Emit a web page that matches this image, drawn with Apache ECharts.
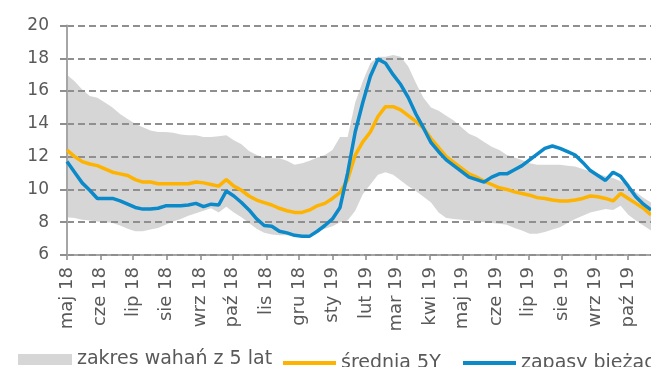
<!DOCTYPE html>
<html>
<head>
<meta charset="utf-8">
<script src="https://cdn.jsdelivr.net/npm/echarts@6/dist/echarts.min.js"></script>
<style>
    html, body { margin: 0; padding: 0; background: #fff; }
    #chart { width: 651px; height: 367px; }
</style>
</head>
<body>
<div id="chart"></div>
<script>
    // tygodniowe odczyty od 1 maja 2018
    var tickLabels = ['maj 18', 'cze 18', 'lip 18', 'sie 18', 'wrz 18', 'paź 18', 'lis 18', 'gru 18', 'sty 19',
        'lut 19', 'mar 19', 'kwi 19', 'maj 19', 'cze 19', 'lip 19', 'sie 19', 'wrz 19', 'paź 19'];

    // zakres wahań z 5 lat - dolna i górna granica
    var bandLow = [8.3, 8.25, 8.15, 8.1, 8.05, 8.0, 7.95, 7.8, 7.6, 7.45, 7.45, 7.55, 7.65, 7.85, 8.05, 8.2, 8.4, 8.55, 8.7, 8.85,
        8.6, 8.95, 8.6, 8.3, 7.95, 7.6, 7.35, 7.25, 7.2, 7.2, 7.2, 7.2, 7.25, 7.4, 7.6, 7.75, 8.0, 8.1, 8.7, 9.7,
        10.3, 10.9, 11.05, 10.9, 10.55, 10.2, 9.9, 9.55, 9.2, 8.6, 8.25, 8.2, 8.15, 8.1, 8.05, 8.0, 7.95, 7.9, 7.85, 7.65,
        7.5, 7.3, 7.3, 7.4, 7.55, 7.7, 7.95, 8.2, 8.4, 8.6, 8.7, 8.8, 8.75, 9.0, 8.45, 8.1, 7.8, 7.5];
    var bandHigh = [17.0, 16.6, 16.1, 15.7, 15.6, 15.3, 15.0, 14.6, 14.3, 14.0, 13.8, 13.6, 13.5, 13.5, 13.45, 13.35, 13.3, 13.3, 13.2, 13.2,
        13.25, 13.3, 13.0, 12.75, 12.35, 12.1, 11.95, 11.9, 11.9, 11.75, 11.5, 11.6, 11.75, 11.95, 12.1, 12.4, 13.2, 13.2, 15.3, 16.6,
        17.7, 18.1, 18.1, 18.2, 18.1, 17.5, 16.5, 15.6, 15.0, 14.8, 14.5, 14.2, 13.8, 13.4, 13.2, 12.9, 12.6, 12.4, 12.1, 11.95,
        11.8, 11.6, 11.5, 11.5, 11.5, 11.5, 11.45, 11.4, 11.25, 11.1, 10.95, 10.8, 10.7, 10.5, 10.25, 9.85, 9.5, 9.2];
    // średnia 5Y
    var avg5y = [12.4, 12.0, 11.7, 11.55, 11.45, 11.25, 11.05, 10.95, 10.85, 10.6, 10.45, 10.45, 10.35, 10.35, 10.35, 10.35, 10.35, 10.45, 10.4, 10.3,
        10.2, 10.6, 10.2, 9.95, 9.6, 9.35, 9.2, 9.05, 8.85, 8.7, 8.6, 8.6, 8.75, 9.0, 9.15, 9.45, 9.8, 10.6, 12.1, 12.9,
        13.5, 14.45, 15.05, 15.05, 14.85, 14.5, 14.15, 13.75, 13.1, 12.55, 12.0, 11.65, 11.3, 10.95, 10.75, 10.5, 10.3, 10.1, 10.0, 9.85,
        9.75, 9.65, 9.5, 9.45, 9.35, 9.3, 9.3, 9.35, 9.45, 9.6, 9.55, 9.45, 9.3, 9.75, 9.45, 9.15, 8.85, 8.45];
    // zapasy bieżące
    var current = [11.7, 11.05, 10.4, 9.95, 9.45, 9.45, 9.45, 9.3, 9.1, 8.9, 8.8, 8.8, 8.85, 9.0, 9.0, 9.0, 9.05, 9.15, 8.95, 9.1,
        9.05, 9.9, 9.6, 9.2, 8.75, 8.2, 7.8, 7.75, 7.45, 7.35, 7.2, 7.15, 7.15, 7.45, 7.8, 8.2, 8.9, 11.0, 13.5, 15.3,
        16.9, 17.95, 17.7, 17.0, 16.4, 15.6, 14.6, 13.75, 12.85, 12.3, 11.8, 11.45, 11.1, 10.75, 10.6, 10.45, 10.75, 10.95, 10.95, 11.2,
        11.45, 11.8, 12.15, 12.5, 12.65, 12.5, 12.3, 12.1, 11.65, 11.15, 10.85, 10.55, 11.05, 10.8, 10.2, 9.55, 9.1, 8.75];

    var weeks = [];
    for (var i = 0; i < current.length; i++) {
        weeks.push(new Date(2018, 4, 1 + i * 7).getTime());
    }
    // początek każdego miesiąca -> podpis
    var tickValues = [];
    var labelByTime = {};
    tickLabels.forEach(function (l, k) {
        var t = new Date(2018, 4 + k, 1).getTime();
        tickValues.push(t);
        labelByTime[t] = l;
    });

    function pairs(arr) {
        return arr.map(function (v, k) { return [weeks[k], v]; });
    }
    var bandData = weeks.map(function (t, k) { return [t, bandLow[k], bandHigh[k]]; });

    // cały obszar wahań rysowany jako jeden wielokąt
    function renderBand(params, api) {
        if (params.dataIndex !== 0) return;
        var top = [], bottom = [];
        for (var k = 0; k < bandData.length; k++) {
            top.push(api.coord([bandData[k][0], bandData[k][2]]));
            bottom.unshift(api.coord([bandData[k][0], bandData[k][1]]));
        }
        return {
            type: 'polygon',
            shape: { points: top.concat(bottom) },
            style: { fill: '#d6d6d6' }
        };
    }

    var textColor = '#595959';
    var font = 'DejaVu Sans, Verdana, sans-serif';
    var legendText = { color: textColor, fontSize: 19, fontFamily: font };

    var chart = echarts.init(document.getElementById('chart'));
    chart.setOption({
        animation: false,
        grid: {
            left: 67,
            right: 0,
            top: 25.5,
            bottom: 112
        },
        legend: [
            {
                left: 18, top: 350, padding: 0,
                itemWidth: 54, itemHeight: 11,
                icon: 'rect',
                textStyle: legendText,
                data: ['zakres wahań z 5 lat']
            },
            {
                left: 283, top: 353.5, padding: 0,
                itemWidth: 53, itemHeight: 4,
                icon: 'rect',
                textStyle: legendText,
                data: ['średnia 5Y']
            },
            {
                left: 463, top: 353.5, padding: 0,
                itemWidth: 53, itemHeight: 4,
                icon: 'rect',
                textStyle: legendText,
                data: ['zapasy bieżące']
            }
        ],
        xAxis: {
            type: 'value',
            min: weeks[0],
            max: weeks[weeks.length - 1],
            axisLine: { lineStyle: { color: '#a6a6a6', width: 2 } },
            axisTick: { show: true, length: 5, customValues: tickValues, lineStyle: { color: '#a6a6a6', width: 2 } },
            axisLabel: {
                customValues: tickValues,
                rotate: 90,
                margin: 12,
                color: textColor,
                fontSize: 18,
                fontFamily: font,
                formatter: function (v) {
                    return labelByTime[v] || '';
                }
            },
            splitLine: { show: false }
        },
        yAxis: {
            type: 'value',
            min: 6,
            max: 20,
            interval: 2,
            z: 1.5,
            axisLine: { show: true, lineStyle: { color: '#a6a6a6', width: 2 } },
            axisTick: { show: true, length: 7, lineStyle: { color: '#8f8f8f', width: 2 } },
            axisLabel: { color: textColor, fontSize: 17, fontFamily: font, margin: 18 },
            splitLine: { lineStyle: { color: '#8f8f8f', width: 2, type: [7, 4] } }
        },
        series: [
            {
                name: 'zakres wahań z 5 lat',
                type: 'custom',
                z: 1,
                data: bandData,
                encode: { x: 0, y: [1, 2] },
                itemStyle: { color: '#d6d6d6' },
                renderItem: renderBand
            },
            {
                name: 'średnia 5Y',
                type: 'line',
                data: pairs(avg5y),
                showSymbol: false,
                color: '#fdb300',
                lineStyle: { width: 3.5, color: '#fdb300' }
            },
            {
                name: 'zapasy bieżące',
                type: 'line',
                data: pairs(current),
                showSymbol: false,
                color: '#0b89c9',
                lineStyle: { width: 3.5, color: '#0b89c9' }
            }
        ]
    });
</script>
</body>
</html>
